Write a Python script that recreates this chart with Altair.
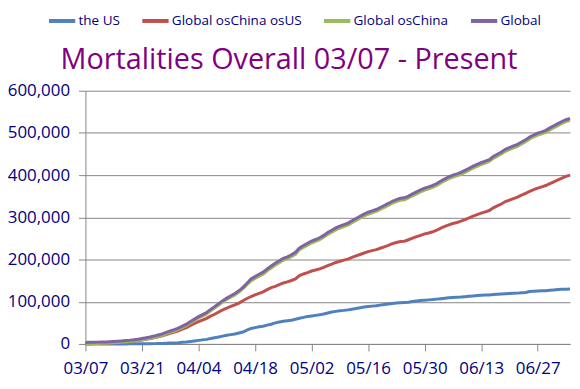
import altair as alt
import pandas as pd

dates = [d.strftime("%m/%d") for d in pd.date_range("2020-03-07", "2020-07-05")]
tick_labels = ["03/07", "03/21", "04/04", "04/18", "05/02", "05/16", "05/30", "06/13", "06/27"]
y_ticks = [0, 100000, 200000, 300000, 400000, 500000, 600000]

series_names = ["the US", "Global osChina osUS", "Global osChina", "Global"]
colors = ["#4F81BD", "#C0504D", "#9BBB59", "#8064A2"]

the_us = [
    19, 21, 22, 28, 36, 40, 47, 54, 63, 85, 108, 118, 200, 244, 307, 427, 552, 706, 942, 1209,
    1581, 2026, 2467, 2978, 3873,
    4757, 5926, 7087, 8407, 9619, 10783, 12722, 14695, 16478, 18586, 20463, 22020, 23529, 25832,
    28325, 32916, 36773, 38664, 40661, 42094, 44444, 46622, 49954, 51949, 53755, 54881, 56219,
    58355, 60967, 62996,
    64943, 66369, 67682, 68922, 71064, 73455, 75662, 77180, 78795, 79526, 80682, 82356, 84119,
    85898, 87530, 88754, 89562, 90347, 91921, 93439, 94702, 95979, 97049, 97689, 98220, 98916,
    100442, 101617, 102836, 103776, 104383,
    105147, 106181, 107175, 108211, 109192, 109901, 110375, 110990, 112006, 112924, 113820,
    114669, 115436, 115732, 116127, 116963, 117717, 118435, 119112, 119719, 119977, 120402,
    121225, 121979, 124410, 125039, 125539, 125804, 126141, 127425,
    128062, 128740, 129434, 129676, 129947,
]

global_os_china_os_us = [
    467, 681, 843, 1095, 1418, 1508, 2177, 2572, 3174, 3824, 4567, 5374, 6418, 7802, 9407,
    10922, 12671, 14628, 16954, 19470, 22321, 25327, 28154, 31296, 34925,
    38736, 43735, 48374, 52869, 56422, 60447, 65808, 70306, 75638, 80599, 84697, 88728, 92607,
    96807, 102505, 107538, 112413, 116209, 119747, 123256, 128560, 133423, 136462, 140574,
    144455, 147027, 150312, 154161, 162034, 165755,
    169070, 172802, 175151, 177978, 181538, 185739, 189268, 193081, 195879, 198546, 201011,
    204949, 208441, 211883, 215499, 218618, 220985, 223496, 226726, 230038, 233584, 237543,
    240410, 242732, 243374, 246899, 250549, 254053, 257393, 260712, 263014,
    265755, 269430, 274319, 278407, 282278, 285463, 287861, 290833, 294688, 298554, 302842,
    306246, 309784, 312828, 316110, 322613, 327222, 331535, 337352, 340864, 344549, 347906,
    352512, 356990, 361262, 365464, 369211, 372191, 375379, 379853,
    384259, 388533, 393049, 396919, 399939,
]

global_os_china = [
    486, 702, 865, 1123, 1454, 1548, 2224, 2626, 3237, 3909, 4675, 5492, 6618, 8046, 9714,
    11349, 13223, 15334, 17896, 20679, 23902, 27353, 30621, 34274, 38798,
    43493, 49661, 55461, 61276, 66041, 71230, 78530, 85001, 92116, 99185, 105160, 110748,
    116136, 122639, 130830, 140454, 149186, 154873, 160408, 165350, 173004, 180045, 186416,
    192523, 198210, 201908, 206531, 212516, 223001, 228751,
    234013, 239171, 242833, 246900, 252602, 259194, 264930, 270261, 274674, 278072, 281693,
    287305, 292560, 297781, 303029, 307372, 310547, 313843, 318647, 323477, 328286, 333522,
    337459, 340421, 341594, 345815, 350991, 355670, 360229, 364488, 367397,
    370902, 375611, 381494, 386618, 391470, 395364, 398236, 401823, 406694, 411478, 416662,
    420915, 425220, 428560, 432237, 439576, 444939, 449970, 456464, 460583, 464526, 468308,
    473737, 478969, 485672, 490503, 494750, 497995, 501520, 507278,
    512321, 517273, 522483, 526595, 529886,
]

global_all = [
    3558, 3802, 3988, 4262, 4615, 4720, 5404, 5819, 6440, 7126, 7905, 8733, 9867, 11299,
    12973, 14623, 16497, 18615, 21181, 23970, 27198, 30652, 33925, 37582, 42107,
    46809, 52983, 58787, 64606, 69374, 74565, 81865, 88338, 95455, 102525, 108503, 114091,
    119481, 125984, 134176, 143800, 153822, 159509, 165044, 169986, 177640, 184681, 191052,
    197159, 202846, 206544, 211167, 217153, 227638, 233388,
    238650, 243808, 247470, 251537, 257239, 263831, 269567, 274898, 279311, 282709, 286330,
    291942, 297197, 302418, 307666, 312009, 315185, 318481, 323285, 328115, 332924, 338160,
    342097, 345059, 346232, 350453, 355629, 360308, 364867, 369126, 372035,
    375540, 380249, 386132, 391256, 396108, 400002, 402874, 406461, 411332, 416116, 421300,
    425553, 429858, 433198, 436875, 444214, 449577, 454608, 461102, 465222, 469165, 472947,
    478376, 483608, 490311, 495142, 499389, 502634, 506159, 511917,
    516962, 521914, 527124, 531236, 534527,
]

rows = []
for name, vals in zip(series_names, [the_us, global_os_china_os_us, global_os_china, global_all]):
    for d, v in zip(dates, vals):
        rows.append({"date": d, "series": name, "deaths": v})
df = pd.DataFrame(rows)

FONT = "Open Sans"
NAVY = "#000080"
GRID = "#868686"

chart = alt.Chart(df).mark_line(strokeWidth=3).encode(
    x=alt.X(
        "date:O",
        sort=dates,
        scale=alt.Scale(type="point", padding=0),
        axis=alt.Axis(values=tick_labels, title=None, labelAngle=0, grid=False,
                      tickSize=7, tickColor=GRID, domainColor=GRID, labelPadding=10,
                      labelFontSize=17),
    ),
    y=alt.Y(
        "deaths:Q",
        scale=alt.Scale(domain=[0, 600000], nice=False),
        axis=alt.Axis(values=y_ticks, format=",d", title=None, grid=True, gridColor=GRID,
                      tickSize=7, tickColor=GRID, domainColor=GRID, labelPadding=9,
                      labelFontSize=17),
    ),
    color=alt.Color(
        "series:N",
        sort=series_names,
        scale=alt.Scale(domain=series_names, range=colors),
        legend=alt.Legend(
            title=None, orient="none", direction="horizontal", columns=4,
            legendX=-39, legendY=-86, symbolType="stroke", symbolStrokeWidth=4,
            symbolSize=700, labelFontSize=13.6, labelFont=FONT, labelColor=NAVY,
            columnPadding=14, labelOffset=1,
        ),
    ),
).properties(
    width=488,
    height=255,
    title=alt.TitleParams(
        "Mortalities Overall 03/07 - Present", font=FONT, fontSize=29, fontWeight="normal",
        color="#800080", anchor="middle", dx=-39, dy=93, offset=0, baseline="alphabetic",
    ),
    autosize=alt.AutoSizeParams(type="none"),
    padding={"left": 78, "top": 82, "right": 2, "bottom": 34},
).configure_view(stroke=None).configure_axis(
    labelFont=FONT, labelColor=NAVY, domainWidth=1, gridWidth=1, tickWidth=1
)

chart.save("out.html", embed_options={"renderer": "svg", "actions": False})
